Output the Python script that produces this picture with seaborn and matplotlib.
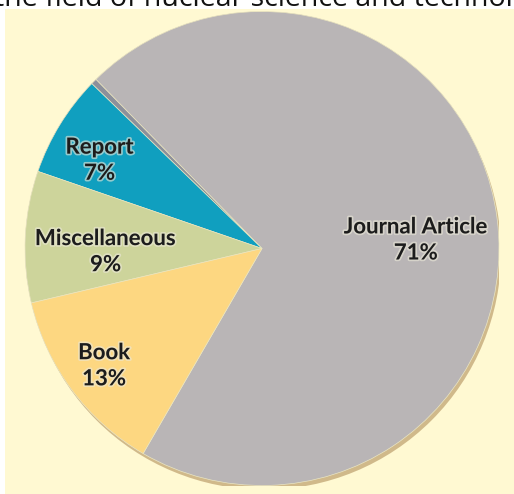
import numpy as np
import seaborn as sns
import matplotlib.pyplot as plt
import matplotlib.patheffects as pe
from matplotlib.patches import Rectangle, Circle

# share of documents by type (percent), counter-clockwise from the Book/Journal edge
categories = ['Journal Article', '', 'Report', 'Miscellaneous', 'Book']
shares = [71, 0.4, 7, 9, 13]
colors = ['#b9b5b6', '#8d909b', '#109fbf', '#cdd49b', '#fdd781']
title_text = 'the field of nuclear science and technology'

sns.set_theme(style='white')
plt.rcParams['font.family'] = ['Open Sans', 'DejaVu Sans']

W, H = 514, 494
fig = plt.figure(figsize=(W / 100, H / 100), dpi=100)
fig.patch.set_facecolor('white')

# cream panel behind the pie
fig.patches.append(Rectangle((5 / W, 0), (W - 5) / W, (H - 9) / H,
                             transform=fig.transFigure, facecolor='#fff9d2',
                             edgecolor='none', zorder=-10))

# cut-off caption text at the very top
fig.text(-0.012, 1 - 6 / H, title_text, fontsize=20.5, color='#111111',
         ha='left', va='baseline', zorder=-5)

cx, cy, r = 262, 494 - 248.5, 237
ax = fig.add_axes([(cx - r) / W, (cy - r) / H, 2 * r / W, 2 * r / H])
ax.set_facecolor('none')
ax.set_zorder(1)

# soft shadow under the whole disc
disc = Circle((0, 0), 1, facecolor='#b9b5b6', edgecolor='none', zorder=0)
disc.set_path_effects([pe.SimplePatchShadow(offset=(1.5, -3), shadow_rgbFace='#8a5a20',
                                            alpha=0.4), pe.Normal()])
ax.add_patch(disc)

wedges, _ = ax.pie(shares, colors=colors, startangle=-120.1, counterclock=True,
                   radius=1, wedgeprops=dict(edgecolor='#ece6c0', linewidth=0.5, zorder=1))
ax.set_xlim(-1, 1)
ax.set_ylim(-1, 1)
ax.set_aspect('equal')
ax.axis('off')

# label placement: radial distance and angle shift for each wedge
label_dist = [0.65, 0, 0.78, 0.66, 0.83]
angle_shift = [-4, 0, 3, 4, 0]
glow = [pe.withStroke(linewidth=2.5, foreground='#ebe8d8', alpha=0.6)]
for w, name, val, d, da in zip(wedges, categories, shares, label_dist, angle_shift):
    if not name:
        continue
    ang = np.deg2rad((w.theta1 + w.theta2) / 2 + da)
    ax.text(d * np.cos(ang), d * np.sin(ang), f'{name}\n{val:.0f}%',
            ha='center', va='center', fontsize=16, fontweight='bold',
            family=['Lato', 'DejaVu Sans'], color='#1c1c1c', linespacing=1.3,
            path_effects=glow, zorder=3)

fig.savefig('out.png', dpi=100)
